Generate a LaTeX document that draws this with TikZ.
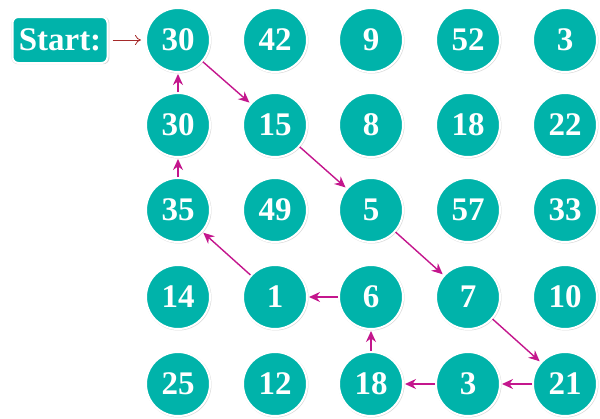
\documentclass[tikz,border=0pt]{standalone}
\usepackage{fontspec}
\setmainfont{Liberation Serif}
\usetikzlibrary{arrows.meta,shadows}
\definecolor{tealc}{HTML}{00B3AA}
\definecolor{magc}{HTML}{C4168D}
\definecolor{startarr}{HTML}{A52A2A}
\tikzset{
  num/.style={circle, minimum size=64pt, inner sep=0pt, fill=tealc, draw=white, line width=2pt,
    text=white, font=\fontsize{33}{33}\selectfont\bfseries,
    drop shadow={opacity=0.3, shadow xshift=0.5pt, shadow yshift=-0.5pt, shadow scale=1.03}},
  startbox/.style={rounded corners=6pt, fill=tealc, draw=white, line width=2pt, text=white,
    minimum width=95pt, minimum height=46pt, inner sep=0pt,
    font=\fontsize{33}{33}\selectfont\bfseries,
    drop shadow={opacity=0.3, shadow xshift=0.5pt, shadow yshift=-0.5pt, shadow scale=1.03}},
  patharr/.style={draw=magc, line width=1.4pt, -{Stealth[length=11pt,width=10pt]}, shorten >=1pt},
}
\begin{document}
\begin{tikzpicture}[x=1pt,y=-1pt]
\useasboundingbox (0,0) rectangle (600,418);
\fill[white] (0,0) rectangle (600,418);
\node[startbox] (start) at (60,40) {Start:};
% rows
\node[num] (a1) at (178,40) {30};
\node[num] (a2) at (275,40) {42};
\node[num] (a3) at (371,40) {9};
\node[num] (a4) at (468,40) {52};
\node[num] (a5) at (565,40) {3};
\node[num] (b1) at (178,125) {30};
\node[num] (b2) at (275,125) {15};
\node[num] (b3) at (371,125) {8};
\node[num] (b4) at (468,125) {18};
\node[num] (b5) at (565,125) {22};
\node[num] (c1) at (178,210) {35};
\node[num] (c2) at (275,210) {49};
\node[num] (c3) at (371,210) {5};
\node[num] (c4) at (468,210) {57};
\node[num] (c5) at (565,210) {33};
\node[num] (d1) at (178,297) {14};
\node[num] (d2) at (275,297) {1};
\node[num] (d3) at (371,297) {6};
\node[num] (d4) at (468,297) {7};
\node[num] (d5) at (565,297) {10};
\node[num] (e1) at (178,384) {25};
\node[num] (e2) at (275,384) {12};
\node[num] (e3) at (371,384) {18};
\node[num] (e4) at (468,384) {3};
\node[num] (e5) at (565,384) {21};
% start arrow
\draw[startarr, line width=0.8pt, -{To[length=6pt,width=10pt]}, shorten <=4pt, shorten >=4pt] (start) -- (a1);
% path
\draw[patharr] (a1) -- (b2);
\draw[patharr] (b2) -- (c3);
\draw[patharr] (c3) -- (d4);
\draw[patharr] (d4) -- (e5);
\draw[patharr] (e5) -- (e4);
\draw[patharr] (e4) -- (e3);
\draw[patharr] (e3) -- (d3);
\draw[patharr] (d3) -- (d2);
\draw[patharr] (d2) -- (c1);
\draw[patharr] (c1) -- (b1);
\draw[patharr] (b1) -- (a1);
\end{tikzpicture}
\end{document}
